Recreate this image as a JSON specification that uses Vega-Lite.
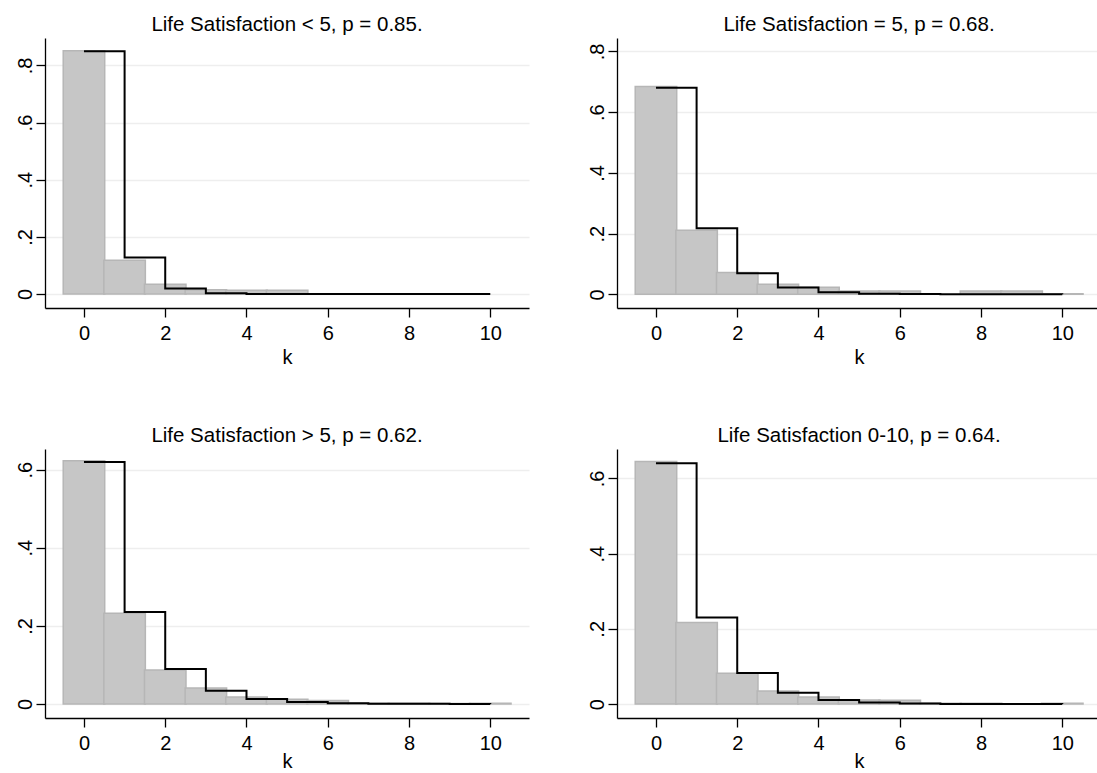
{
  "$schema": "https://vega.github.io/schema/vega-lite/v6.json",
  "background": "white",
  "padding": {"left": 15, "top": 14, "right": -4, "bottom": 0},
  "bounds": "flush",
  "columns": 2,
  "spacing": {"row": 141, "column": 88},
  "config": {
    "font": "Liberation Sans",
    "view": {"stroke": null},
    "axis": {
      "domainColor": "black", "domainWidth": 1.3,
      "tickColor": "black", "tickWidth": 1.3, "tickSize": 9,
      "labelFont": "Liberation Sans", "labelFontSize": 20, "labelColor": "black",
      "titleFont": "Liberation Sans", "titleFontSize": 20, "titleFontWeight": "normal", "titleColor": "black",
      "gridColor": "#eeeeee", "gridWidth": 1.3
    },
    "axisX": {"grid": false, "labelPadding": 6, "titleBaseline": "alphabetic", "labelFlush": false},
    "axisY": {"grid": true, "labelAngle": -90, "labelAlign": "center", "labelBaseline": "bottom", "labelPadding": 1, "title": null,
      "labelExpr": "datum.value == 0 ? '0' : replace(format(datum.value, '.1f'), '0.', '.')"},
    "title": {"fontSize": 20.5, "fontWeight": "normal", "color": "black", "baseline": "alphabetic", "offset": 3, "frame": "group", "anchor": "middle", "font": "Liberation Sans"}
  },
  "datasets": {
    "hist": [
      {"panel": "A", "k": 0, "density": 0.851}, {"panel": "A", "k": 1, "density": 0.118}, {"panel": "A", "k": 2, "density": 0.034},
      {"panel": "A", "k": 3, "density": 0.015}, {"panel": "A", "k": 4, "density": 0.013}, {"panel": "A", "k": 5, "density": 0.013},
      {"panel": "B", "k": 0, "density": 0.684}, {"panel": "B", "k": 1, "density": 0.211}, {"panel": "B", "k": 2, "density": 0.0715},
      {"panel": "B", "k": 3, "density": 0.033}, {"panel": "B", "k": 4, "density": 0.023}, {"panel": "B", "k": 5, "density": 0.011},
      {"panel": "B", "k": 6, "density": 0.011}, {"panel": "B", "k": 8, "density": 0.011}, {"panel": "B", "k": 9, "density": 0.011},
      {"panel": "B", "k": 10, "density": 0.002},
      {"panel": "C", "k": 0, "density": 0.623}, {"panel": "C", "k": 1, "density": 0.232}, {"panel": "C", "k": 2, "density": 0.087},
      {"panel": "C", "k": 3, "density": 0.041}, {"panel": "C", "k": 4, "density": 0.018}, {"panel": "C", "k": 5, "density": 0.012},
      {"panel": "C", "k": 6, "density": 0.009}, {"panel": "C", "k": 7, "density": 0.002}, {"panel": "C", "k": 8, "density": 0.002},
      {"panel": "C", "k": 9, "density": 0.001}, {"panel": "C", "k": 10, "density": 0.002},
      {"panel": "D", "k": 0, "density": 0.645}, {"panel": "D", "k": 1, "density": 0.217}, {"panel": "D", "k": 2, "density": 0.082},
      {"panel": "D", "k": 3, "density": 0.035}, {"panel": "D", "k": 4, "density": 0.019}, {"panel": "D", "k": 5, "density": 0.011},
      {"panel": "D", "k": 6, "density": 0.010}, {"panel": "D", "k": 7, "density": 0.002}, {"panel": "D", "k": 8, "density": 0.002},
      {"panel": "D", "k": 9, "density": 0.001}, {"panel": "D", "k": 10, "density": 0.002}
    ],
    "pmf": [
      {"panel": "A", "k": 0, "prob": 0.85}, {"panel": "A", "k": 1, "prob": 0.1275}, {"panel": "A", "k": 2, "prob": 0.01913},
      {"panel": "A", "k": 3, "prob": 0.00287}, {"panel": "A", "k": 4, "prob": 0.00043}, {"panel": "A", "k": 5, "prob": 0.000065},
      {"panel": "A", "k": 6, "prob": 0.00001}, {"panel": "A", "k": 7, "prob": 0.0000015}, {"panel": "A", "k": 8, "prob": 0.0000002},
      {"panel": "A", "k": 9, "prob": 0.00000003}, {"panel": "A", "k": 10, "prob": 0.000000005},
      {"panel": "B", "k": 0, "prob": 0.68}, {"panel": "B", "k": 1, "prob": 0.2176}, {"panel": "B", "k": 2, "prob": 0.06963},
      {"panel": "B", "k": 3, "prob": 0.02228}, {"panel": "B", "k": 4, "prob": 0.00713}, {"panel": "B", "k": 5, "prob": 0.00228},
      {"panel": "B", "k": 6, "prob": 0.00073}, {"panel": "B", "k": 7, "prob": 0.000234}, {"panel": "B", "k": 8, "prob": 0.000075},
      {"panel": "B", "k": 9, "prob": 0.000024}, {"panel": "B", "k": 10, "prob": 0.0000077},
      {"panel": "C", "k": 0, "prob": 0.62}, {"panel": "C", "k": 1, "prob": 0.2356}, {"panel": "C", "k": 2, "prob": 0.08953},
      {"panel": "C", "k": 3, "prob": 0.03402}, {"panel": "C", "k": 4, "prob": 0.01293}, {"panel": "C", "k": 5, "prob": 0.00491},
      {"panel": "C", "k": 6, "prob": 0.00187}, {"panel": "C", "k": 7, "prob": 0.00071}, {"panel": "C", "k": 8, "prob": 0.00027},
      {"panel": "C", "k": 9, "prob": 0.0001}, {"panel": "C", "k": 10, "prob": 0.00004},
      {"panel": "D", "k": 0, "prob": 0.64}, {"panel": "D", "k": 1, "prob": 0.2304}, {"panel": "D", "k": 2, "prob": 0.08294},
      {"panel": "D", "k": 3, "prob": 0.02986}, {"panel": "D", "k": 4, "prob": 0.01075}, {"panel": "D", "k": 5, "prob": 0.00387},
      {"panel": "D", "k": 6, "prob": 0.00139}, {"panel": "D", "k": 7, "prob": 0.0005}, {"panel": "D", "k": 8, "prob": 0.00018},
      {"panel": "D", "k": 9, "prob": 0.000065}, {"panel": "D", "k": 10, "prob": 0.000023}
    ]
  },
  "concat": [
    {
      "width": 484, "height": 270,
      "title": "Life Satisfaction < 5, p = 0.85.",
      "layer": [
        {
          "data": {"name": "hist"},
          "transform": [{"filter": "datum.panel == 'A'"}],
          "mark": {"type": "bar", "width": 41.5, "color": "#c6c6c6", "stroke": "#b6b6b6", "strokeWidth": 1.5},
          "encoding": {
            "x": {"field": "k", "type": "quantitative", "title": "k", "scale": {"domain": [-0.836, 10.83], "nice": false, "zero": false}, "axis": {"values": [0, 2, 4, 6, 8, 10], "titleY": 55}},
            "y": {"field": "density", "type": "quantitative", "scale": {"domain": [-0.049, 0.896], "nice": false, "zero": false}, "axis": {"values": [0, 0.2, 0.4, 0.6, 0.8]}},
            "y2": {"datum": 0}
          }
        },
        {
          "data": {"name": "pmf"},
          "transform": [{"filter": "datum.panel == 'A'"}],
          "mark": {"type": "line", "interpolate": "step-after", "color": "black", "strokeWidth": 2},
          "encoding": {
            "x": {"field": "k", "type": "quantitative"},
            "y": {"field": "prob", "type": "quantitative"}
          }
        }
      ]
    },
    {
      "width": 484, "height": 270,
      "title": "Life Satisfaction = 5, p = 0.68.",
      "layer": [
        {
          "data": {"name": "hist"},
          "transform": [{"filter": "datum.panel == 'B'"}],
          "mark": {"type": "bar", "width": 41.5, "color": "#c6c6c6", "stroke": "#b6b6b6", "strokeWidth": 1.5},
          "encoding": {
            "x": {"field": "k", "type": "quantitative", "title": "k", "scale": {"domain": [-0.836, 10.83], "nice": false, "zero": false}, "axis": {"values": [0, 2, 4, 6, 8, 10], "titleY": 55}},
            "y": {"field": "density", "type": "quantitative", "scale": {"domain": [-0.045, 0.844], "nice": false, "zero": false}, "axis": {"values": [0, 0.2, 0.4, 0.6, 0.8]}},
            "y2": {"datum": 0}
          }
        },
        {
          "data": {"name": "pmf"},
          "transform": [{"filter": "datum.panel == 'B'"}],
          "mark": {"type": "line", "interpolate": "step-after", "color": "black", "strokeWidth": 2},
          "encoding": {
            "x": {"field": "k", "type": "quantitative"},
            "y": {"field": "prob", "type": "quantitative"}
          }
        }
      ]
    },
    {
      "width": 484, "height": 269,
      "title": "Life Satisfaction > 5, p = 0.62.",
      "layer": [
        {
          "data": {"name": "hist"},
          "transform": [{"filter": "datum.panel == 'C'"}],
          "mark": {"type": "bar", "width": 41.5, "color": "#c6c6c6", "stroke": "#b6b6b6", "strokeWidth": 1.5},
          "encoding": {
            "x": {"field": "k", "type": "quantitative", "title": "k", "scale": {"domain": [-0.836, 10.83], "nice": false, "zero": false}, "axis": {"values": [0, 2, 4, 6, 8, 10], "titleY": 49}},
            "y": {"field": "density", "type": "quantitative", "scale": {"domain": [-0.036, 0.653], "nice": false, "zero": false}, "axis": {"values": [0, 0.2, 0.4, 0.6]}},
            "y2": {"datum": 0}
          }
        },
        {
          "data": {"name": "pmf"},
          "transform": [{"filter": "datum.panel == 'C'"}],
          "mark": {"type": "line", "interpolate": "step-after", "color": "black", "strokeWidth": 2},
          "encoding": {
            "x": {"field": "k", "type": "quantitative"},
            "y": {"field": "prob", "type": "quantitative"}
          }
        }
      ]
    },
    {
      "width": 484, "height": 269,
      "title": "Life Satisfaction 0-10, p = 0.64.",
      "layer": [
        {
          "data": {"name": "hist"},
          "transform": [{"filter": "datum.panel == 'D'"}],
          "mark": {"type": "bar", "width": 41.5, "color": "#c6c6c6", "stroke": "#b6b6b6", "strokeWidth": 1.5},
          "encoding": {
            "x": {"field": "k", "type": "quantitative", "title": "k", "scale": {"domain": [-0.836, 10.83], "nice": false, "zero": false}, "axis": {"values": [0, 2, 4, 6, 8, 10], "titleY": 49}},
            "y": {"field": "density", "type": "quantitative", "scale": {"domain": [-0.037, 0.678], "nice": false, "zero": false}, "axis": {"values": [0, 0.2, 0.4, 0.6]}},
            "y2": {"datum": 0}
          }
        },
        {
          "data": {"name": "pmf"},
          "transform": [{"filter": "datum.panel == 'D'"}],
          "mark": {"type": "line", "interpolate": "step-after", "color": "black", "strokeWidth": 2},
          "encoding": {
            "x": {"field": "k", "type": "quantitative"},
            "y": {"field": "prob", "type": "quantitative"}
          }
        }
      ]
    }
  ]
}
